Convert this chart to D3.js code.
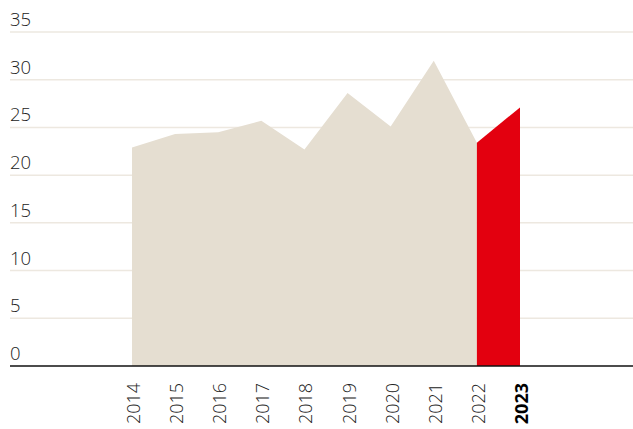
<!DOCTYPE html>
<html>
<head>
<meta charset="utf-8">
<script src="https://cdn.jsdelivr.net/npm/d3@7"></script>
<style>
  body { margin: 0; background: #fff; }
  text { font-family: "Open Sans", sans-serif; font-weight: 300; }
</style>
</head>
<body>
<div id="chart-area"></div>
<script>
var years = [2014, 2015, 2016, 2017, 2018, 2019, 2020, 2021, 2022, 2023];
var values = [22.9, 24.3, 24.5, 25.7, 22.7, 28.6, 25.1, 32.0, 23.4, 27.1];
var yTicks = [0, 5, 10, 15, 20, 25, 30, 35];
var highlightYear = 2023;

var width = 633, height = 429;
var marginLeft = 10, plotBottom = 366, plotTop = 32;

var svg = d3.select("#chart-area")
  .append("svg")
    .attr("width", width)
    .attr("height", height);

var x = d3.scaleLinear().domain([2014, 2023]).range([132, 520]);
var y = d3.scaleLinear().domain([0, 35]).range([plotBottom, plotTop]);

var data = years.map((d, i) => ({year: d, value: values[i]}));

// gridlines
svg.append("g").selectAll("line")
  .data(yTicks.filter(d => d > 0))
  .enter().append("line")
    .attr("x1", marginLeft)
    .attr("x2", width)
    .attr("y1", d => y(d))
    .attr("y2", d => y(d))
    .attr("stroke", "#ede8e0")
    .attr("stroke-width", 1.5);

var area = d3.area()
  .x(d => x(d.year))
  .y0(y(0))
  .y1(d => y(d.value));

svg.append("path")
  .datum(data.filter(d => d.year < highlightYear))
  .attr("fill", "#e5ded1")
  .attr("d", area);

svg.append("path")
  .datum(data.filter(d => d.year >= highlightYear - 1))
  .attr("fill", "#e3000f")
  .attr("d", area);

// y labels
svg.append("g").selectAll("text")
  .data(yTicks)
  .enter().append("text")
    .attr("x", marginLeft)
    .attr("y", d => y(d) - 6)
    .attr("font-size", "18.5px")
    .attr("fill", "#222")
    .text(d => d);

// baseline
svg.append("line")
  .attr("x1", marginLeft)
  .attr("x2", width)
  .attr("y1", y(0))
  .attr("y2", y(0))
  .attr("stroke", "#111")
  .attr("stroke-width", 1.5);

// x labels
svg.append("g").selectAll("text")
  .data(years)
  .enter().append("text")
    .attr("transform", d => "translate(" + (x(d) + 8) + ",383) rotate(-90)")
    .attr("text-anchor", "end")
    .attr("font-size", "18px")
    .attr("fill", d => d === highlightYear ? "#000" : "#222")
    .style("font-weight", d => d === highlightYear ? 700 : 300)
    .text(d => d);
</script>
</body>
</html>
